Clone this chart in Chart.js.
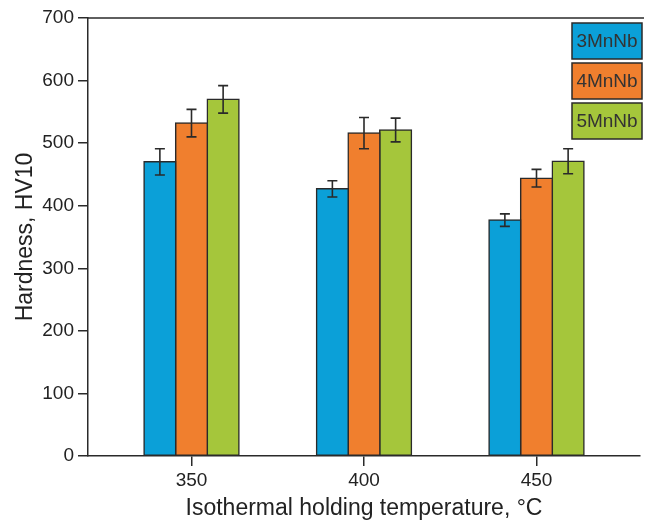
<!DOCTYPE html>
<html>
<head>
<meta charset="utf-8">
<script src="https://cdn.jsdelivr.net/npm/chart.js@4"></script>
<style>
  body { margin: 0; background: #fff; }
  #wrap { width: 651px; height: 522px; }
</style>
</head>
<body>
<div id="wrap"><canvas id="myChart" width="651" height="522"></canvas></div>
<script>
const temps = [350, 400, 450];
const yTicks = [0, 100, 200, 300, 400, 500, 600, 700];

const hv3 = [470, 427, 377];
const hv4 = [532, 516, 444];
const hv5 = [570, 521, 471];

const err3 = [21, 13, 10];
const err4 = [22, 25, 14];
const err5 = [22, 19, 20];

const ink = '#2a2a2a';
const font = "'Liberation Sans', Arial, sans-serif";

// error bars drawn on top of each bar
const errorBars = {
  id: 'errorBars',
  afterDatasetsDraw(chart) {
    const ctx = chart.ctx;
    const y = chart.scales.y;
    ctx.save();
    ctx.strokeStyle = ink;
    ctx.lineWidth = 1.6;
    chart.data.datasets.forEach((ds, i) => {
      const meta = chart.getDatasetMeta(i);
      meta.data.forEach((bar, j) => {
        const v = ds.data[j].y;
        const e = ds.errors[j];
        const top = y.getPixelForValue(v + e);
        const bot = y.getPixelForValue(v - e);
        ctx.beginPath();
        ctx.moveTo(bar.x, top); ctx.lineTo(bar.x, bot);
        ctx.moveTo(bar.x - 5, top); ctx.lineTo(bar.x + 5, top);
        ctx.moveTo(bar.x - 5, bot); ctx.lineTo(bar.x + 5, bot);
        ctx.stroke();
      });
    });
    ctx.restore();
  }
};

// top frame line + boxed legend
const frameAndLegend = {
  id: 'frameAndLegend',
  afterDraw(chart) {
    const ctx = chart.ctx;
    const a = chart.chartArea;
    ctx.save();
    ctx.strokeStyle = ink;
    ctx.lineWidth = 1.5;
    ctx.beginPath();
    ctx.moveTo(a.left, a.top);
    ctx.lineTo(a.right + 4, a.top);
    ctx.stroke();

    const x = 572, w = 70, h = 36, gap = 4;
    let top = 23;
    ctx.font = '19px ' + font;
    ctx.textAlign = 'center';
    ctx.textBaseline = 'middle';
    chart.data.datasets.forEach(ds => {
      ctx.fillStyle = ds.backgroundColor;
      ctx.fillRect(x, top, w, h);
      ctx.lineWidth = 1.5;
      ctx.strokeRect(x, top, w, h);
      ctx.fillStyle = '#333';
      ctx.fillText(ds.label, x + w / 2, top + h / 2 + 1);
      top += h + gap;
    });
    ctx.restore();
  }
};

function series(values) {
  return values.map((v, i) => ({ x: temps[i], y: v }));
}

new Chart(document.getElementById('myChart'), {
  type: 'bar',
  data: {
    datasets: [
      { label: '3MnNb', data: series(hv3), errors: err3, backgroundColor: '#0ba0d8' },
      { label: '4MnNb', data: series(hv4), errors: err4, backgroundColor: '#f07f2e' },
      { label: '5MnNb', data: series(hv5), errors: err5, backgroundColor: '#a5c63b' }
    ].map(d => Object.assign(d, {
      borderColor: ink,
      borderWidth: 1.5,
      borderSkipped: false,
      inflateAmount: 0.8,
      categoryPercentage: 0.55,
      barPercentage: 1.0
    }))
  },
  options: {
    responsive: false,
    animation: false,
    layout: { padding: { top: 18, right: 11, bottom: 0, left: 0 } },
    scales: {
      x: {
        type: 'linear',
        min: 320,
        max: 480,
        offset: false,
        afterBuildTicks: s => { s.ticks = temps.map(v => ({ value: v })); },
        afterFit: s => { s.height = 66; },
        grid: { offset: false, drawOnChartArea: false, drawTicks: true, tickLength: 10, color: ink, lineWidth: 1.5 },
        border: { display: true, color: ink, width: 1.5 },
        ticks: { color: '#222', font: { family: font, size: 19 }, padding: 3, callback: v => String(v) },
        title: {
          display: true,
          text: 'Isothermal holding temperature, °C',
          color: '#222',
          font: { family: font, size: 23 },
          padding: { top: 0, bottom: 0 }
        }
      },
      y: {
        min: 0,
        max: 700,
        afterBuildTicks: s => { s.ticks = yTicks.map(v => ({ value: v })); },
        afterFit: s => { s.width = 88; },
        grid: { drawOnChartArea: false, drawTicks: true, tickLength: 10, color: ink, lineWidth: 1.5 },
        border: { display: true, color: ink, width: 1.5 },
        ticks: { color: '#222', font: { family: font, size: 19 }, padding: 4 },
        title: {
          display: true,
          text: 'Hardness, HV10',
          color: '#222',
          font: { family: font, size: 23 },
          padding: { top: 12, bottom: 0 }
        }
      }
    },
    plugins: {
      legend: { display: false },
      tooltip: { enabled: false }
    }
  },
  plugins: [errorBars, frameAndLegend]
});
</script>
</body>
</html>
